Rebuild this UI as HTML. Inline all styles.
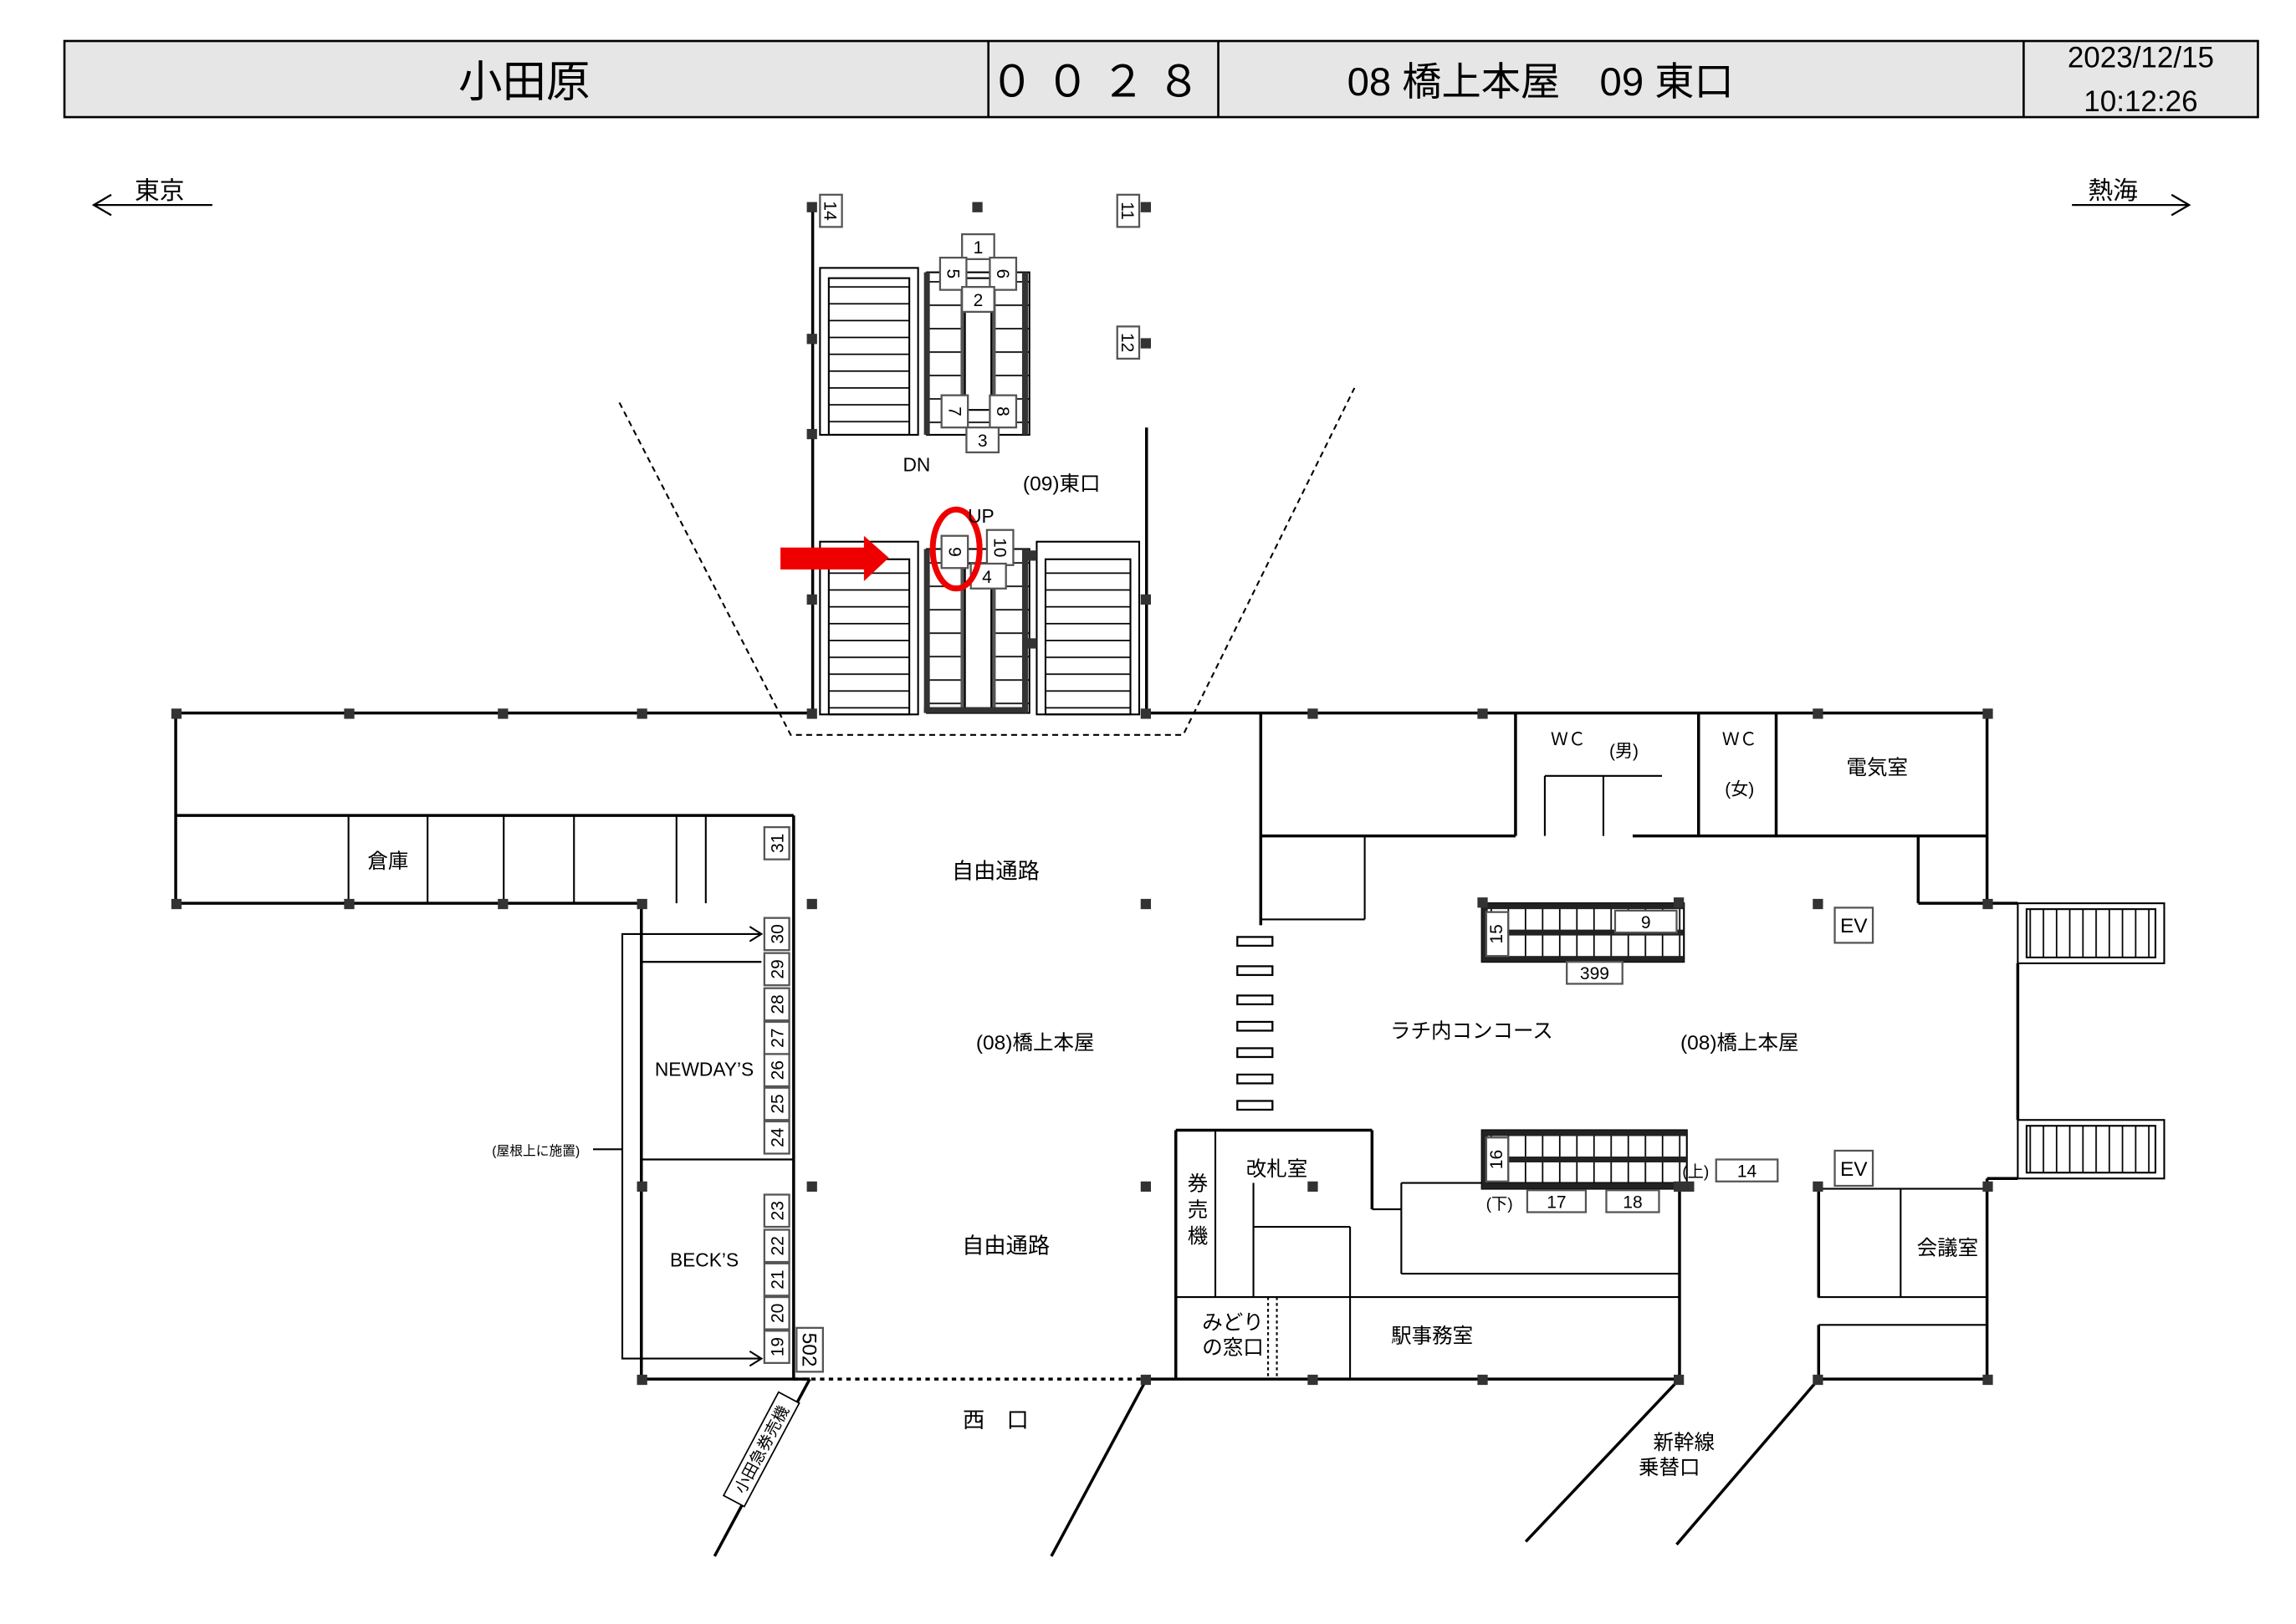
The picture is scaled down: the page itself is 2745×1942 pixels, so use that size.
<!DOCTYPE html>
<html><head><meta charset="utf-8"><style>
html,body{margin:0;padding:0;background:#fff}
svg{display:block}
text{font-family:"Liberation Sans","Noto Sans CJK JP",sans-serif;fill:#000}
</style></head><body>
<svg width="2745" height="1942" viewBox="0 0 1568 1109.3" preserveAspectRatio="none" xmlns="http://www.w3.org/2000/svg">
<defs>
<pattern id="tr" patternUnits="userSpaceOnUse" width="10" height="11.5"><line x1="0" y1="0.5" x2="10" y2="0.5" stroke="#000" stroke-width="1"/></pattern>
<pattern id="tr2" patternUnits="userSpaceOnUse" width="10" height="16"><line x1="0" y1="0.5" x2="10" y2="0.5" stroke="#000" stroke-width="1"/></pattern>
<pattern id="vt" patternUnits="userSpaceOnUse" width="11.7" height="10"><line x1="0.5" y1="0" x2="0.5" y2="10" stroke="#000" stroke-width="1"/></pattern>
<pattern id="vt2" patternUnits="userSpaceOnUse" width="9" height="10"><line x1="0.5" y1="0" x2="0.5" y2="10" stroke="#000" stroke-width="1"/></pattern>
</defs>
<rect width="1568" height="1109.3" fill="#fff"/>
<!-- header -->
<rect x="44" y="28" width="1498" height="52" fill="#e6e6e6" stroke="#000" stroke-width="1.5"/>
<line x1="675" y1="28" x2="675" y2="80" stroke="#000" stroke-width="1.5"/>
<line x1="832" y1="28" x2="832" y2="80" stroke="#000" stroke-width="1.5"/>
<line x1="1382" y1="28" x2="1382" y2="80" stroke="#000" stroke-width="1.5"/>
<text x="358" y="66" font-size="30" text-anchor="middle">小田原</text>
<text x="752" y="66" font-size="30" text-anchor="middle" letter-spacing="8">００２８</text>
<text x="1052" y="65" font-size="27" text-anchor="middle">08 橋上本屋　09 東口</text>
<text x="1462" y="46" font-size="20" text-anchor="middle">2023/12/15</text>
<text x="1462" y="76" font-size="20" text-anchor="middle">10:12:26</text>
<!-- direction -->
<g stroke="#000" stroke-width="1.3" fill="none">
<line x1="64" y1="140" x2="145" y2="140"/><polyline points="76,133 64,140 76,147"/>
<line x1="1415" y1="140" x2="1495" y2="140"/><polyline points="1483,133 1495,140 1483,147"/>
</g>
<text x="92" y="136" font-size="17">東京</text>
<text x="1426" y="136" font-size="17">熱海</text>

<g stroke="#000" stroke-width="2" fill="none">
<line x1="120" y1="487" x2="555" y2="487"/>
<line x1="783" y1="487" x2="1357" y2="487"/>
<line x1="120" y1="487" x2="120" y2="617"/>
<line x1="120" y1="557" x2="542" y2="557"/>
<line x1="120" y1="617" x2="438" y2="617"/>
<line x1="542" y1="557" x2="542" y2="942"/>
<line x1="438" y1="617" x2="438" y2="942"/>
<line x1="438" y1="942" x2="553" y2="942"/>
<line x1="438" y1="657" x2="520" y2="657" stroke-width="1.3"/>
<line x1="438" y1="792" x2="542" y2="792" stroke-width="1.3"/>
<line x1="555" y1="140" x2="555" y2="487"/>
<line x1="783" y1="292" x2="783" y2="487"/>
<line x1="861" y1="487" x2="861" y2="632"/>
<line x1="861" y1="571" x2="1035" y2="571"/>
<line x1="1035" y1="487" x2="1035" y2="571"/>
<line x1="1160" y1="487" x2="1160" y2="571"/>
<line x1="1213" y1="487" x2="1213" y2="571"/>
<line x1="1115" y1="571" x2="1357" y2="571"/>
<line x1="1357" y1="487" x2="1357" y2="617"/>
<line x1="1310" y1="571" x2="1310" y2="617"/>
<line x1="1310" y1="617" x2="1357" y2="617"/>
<line x1="1357" y1="617" x2="1378" y2="617"/>
<line x1="1378" y1="658" x2="1378" y2="765"/>
<line x1="1357" y1="805" x2="1378" y2="805"/>
<line x1="1357" y1="805" x2="1357" y2="942"/>
<line x1="1242" y1="942" x2="1357" y2="942"/>
<line x1="783" y1="942" x2="1147" y2="942"/>
<line x1="1147" y1="808" x2="1147" y2="942"/>
<line x1="803" y1="772" x2="937" y2="772"/>
<line x1="937" y1="772" x2="937" y2="826"/>
<line x1="803" y1="772" x2="803" y2="942"/>
<line x1="1242" y1="812" x2="1242" y2="886"/>
<line x1="1242" y1="905" x2="1242" y2="942"/>
<line x1="553" y1="942" x2="488" y2="1063"/>
<line x1="783" y1="942" x2="718" y2="1063"/>
<line x1="1147" y1="942" x2="1042" y2="1053"/>
<line x1="1242" y1="942" x2="1145" y2="1055"/>
</g>
<g stroke="#000" stroke-width="1.2" fill="none">
<line x1="238" y1="557" x2="238" y2="617"/><line x1="292" y1="557" x2="292" y2="617"/>
<line x1="344" y1="557" x2="344" y2="617"/><line x1="392" y1="557" x2="392" y2="617"/>
<line x1="462" y1="557" x2="462" y2="617"/><line x1="482" y1="557" x2="482" y2="617"/>
<line x1="1055" y1="530" x2="1095" y2="530"/><line x1="1055" y1="530" x2="1055" y2="571"/>
<line x1="1095" y1="530" x2="1095" y2="571"/><line x1="1095" y1="530" x2="1135" y2="530"/>
<line x1="932" y1="571" x2="932" y2="628"/><line x1="861" y1="628" x2="932" y2="628"/>
<rect x="1242" y="812" width="115" height="74"/>
<line x1="1298" y1="812" x2="1298" y2="886"/>
<line x1="1242" y1="905" x2="1357" y2="905"/>
<line x1="937" y1="826" x2="957" y2="826"/><line x1="957" y1="808" x2="957" y2="870"/>
<line x1="957" y1="808" x2="1147" y2="808"/>
<line x1="957" y1="870" x2="1147" y2="870"/>
<line x1="803" y1="886" x2="1147" y2="886"/>
<line x1="830" y1="772" x2="830" y2="886"/>
<line x1="856" y1="808" x2="856" y2="886"/>
<line x1="856" y1="838" x2="922" y2="838"/>
<line x1="922" y1="838" x2="922" y2="942"/>
<line x1="866" y1="886" x2="866" y2="942" stroke-dasharray="2,2"/>
<line x1="872" y1="886" x2="872" y2="942" stroke-dasharray="2,2"/>
<rect x="1378" y="617" width="100" height="41"/>
<rect x="1384" y="621" width="88" height="33" fill="url(#vt2)"/>
<rect x="1378" y="765" width="100" height="40"/>
<rect x="1384" y="769" width="88" height="32" fill="url(#vt2)"/>
<polyline points="423,275 540,502 808,502 925,265" stroke-dasharray="4,3"/>
<polyline points="425,785 425,638 520,638"/><polyline points="512,633 520,638 512,643"/>
<polyline points="425,785 425,928 520,928"/><polyline points="512,923 520,928 512,933"/>
<line x1="405" y1="785" x2="425" y2="785"/>
</g>
<line x1="542" y1="942" x2="783" y2="942" stroke="#000" stroke-width="2" stroke-dasharray="3,3"/>
<g fill="#fff" stroke="#000" stroke-width="1.3">
<rect x="845" y="640" width="24" height="6"/><rect x="845" y="660" width="24" height="6"/>
<rect x="845" y="680" width="24" height="6"/><rect x="845" y="698" width="24" height="6"/>
<rect x="845" y="716" width="24" height="6"/><rect x="845" y="734" width="24" height="6"/>
<rect x="845" y="752" width="24" height="6"/>
</g>
<g stroke="#000" stroke-width="1.2">
<rect x="560" y="183" width="67" height="114" fill="none"/>
<rect x="566" y="190" width="55" height="107" fill="url(#tr)"/>
<rect x="560" y="370" width="67" height="118" fill="none"/>
<rect x="566" y="382" width="55" height="106" fill="url(#tr)"/>
<rect x="708" y="370" width="70" height="118" fill="none"/>
<rect x="714" y="382" width="58" height="106" fill="url(#tr)"/>
<rect x="633" y="186" width="70" height="111" fill="url(#tr2)"/>
<rect x="631" y="186" width="4" height="111" fill="#333" stroke="none"/>
<rect x="698" y="186" width="4" height="111" fill="#333" stroke="none"/>
<rect x="656" y="190" width="3" height="90" fill="#555" stroke="none"/>
<rect x="677" y="190" width="3" height="90" fill="#555" stroke="none"/>
<rect x="659" y="190" width="18" height="90" fill="#fff"/>
<rect x="633" y="375" width="70" height="112" fill="url(#tr2)"/>
<rect x="631" y="375" width="4" height="112" fill="#333" stroke="none"/>
<rect x="698" y="375" width="4" height="112" fill="#333" stroke="none"/>
<rect x="656" y="385" width="3" height="100" fill="#555" stroke="none"/>
<rect x="677" y="385" width="3" height="100" fill="#555" stroke="none"/>
<rect x="659" y="385" width="18" height="100" fill="#fff"/>
<rect x="631" y="483" width="71" height="4" fill="#333" stroke="none"/>
<rect x="1012" y="617" width="138" height="40" fill="url(#vt)"/>
<rect x="1012" y="617" width="138" height="4" fill="#222" stroke="none"/>
<rect x="1030" y="635" width="120" height="4" fill="#222" stroke="none"/>
<rect x="1012" y="653" width="138" height="4" fill="#222" stroke="none"/>
<rect x="1012" y="617" width="4" height="40" fill="#222" stroke="none"/>
<rect x="1012" y="772" width="140" height="40" fill="url(#vt)"/>
<rect x="1012" y="772" width="140" height="4" fill="#222" stroke="none"/>
<rect x="1030" y="790" width="122" height="4" fill="#222" stroke="none"/>
<rect x="1012" y="808" width="140" height="4" fill="#222" stroke="none"/>
<rect x="1012" y="772" width="4" height="40" fill="#222" stroke="none"/>
</g>
<g fill="#333">
<rect x="117" y="484" width="7" height="7"/><rect x="235" y="484" width="7" height="7"/><rect x="340" y="484" width="7" height="7"/><rect x="435" y="484" width="7" height="7"/>
<rect x="551" y="484" width="7" height="7"/><rect x="779" y="484" width="7" height="7"/><rect x="893" y="484" width="7" height="7"/><rect x="1009" y="484" width="7" height="7"/><rect x="1238" y="484" width="7" height="7"/><rect x="1354" y="484" width="7" height="7"/>
<rect x="117" y="614" width="7" height="7"/><rect x="235" y="614" width="7" height="7"/><rect x="340" y="614" width="7" height="7"/><rect x="435" y="614" width="7" height="7"/>
<rect x="551" y="614" width="7" height="7"/><rect x="779" y="614" width="7" height="7"/><rect x="1238" y="614" width="7" height="7"/><rect x="1354" y="614" width="7" height="7"/>
<rect x="435" y="807" width="7" height="7"/><rect x="551" y="807" width="7" height="7"/><rect x="779" y="807" width="7" height="7"/><rect x="893" y="807" width="7" height="7"/>
<rect x="435" y="939" width="7" height="7"/><rect x="779" y="939" width="7" height="7"/><rect x="893" y="939" width="7" height="7"/><rect x="1009" y="939" width="7" height="7"/><rect x="1143" y="939" width="7" height="7"/><rect x="1238" y="939" width="7" height="7"/><rect x="1354" y="939" width="7" height="7"/>
<rect x="1238" y="807" width="7" height="7"/><rect x="1354" y="807" width="7" height="7"/>
<rect x="551" y="138" width="7" height="7"/><rect x="664" y="138" width="7" height="7"/><rect x="779" y="138" width="7" height="7"/>
<rect x="551" y="228" width="7" height="7"/><rect x="779" y="231" width="7" height="7"/><rect x="551" y="293" width="7" height="7"/>
<rect x="551" y="406" width="7" height="7"/><rect x="779" y="406" width="7" height="7"/><rect x="701" y="376" width="7" height="7"/><rect x="701" y="436" width="7" height="7"/>
<rect x="1009" y="613" width="7" height="7"/><rect x="1143" y="613" width="7" height="7"/><rect x="1143" y="807" width="14" height="7"/>
</g>
<g fill="#fff" stroke="#555" stroke-width="1.3">
<rect x="560" y="133" width="15" height="22"/><rect x="763" y="133" width="15" height="22"/><rect x="763" y="223" width="15" height="22"/>
<rect x="657" y="160" width="22" height="17"/><rect x="642" y="176" width="18" height="22"/><rect x="676" y="176" width="18" height="22"/>
<rect x="657" y="196" width="22" height="17"/>
<rect x="643" y="270" width="18" height="22"/><rect x="676" y="270" width="18" height="22"/><rect x="660" y="292" width="22" height="17"/>
<rect x="643" y="366" width="18" height="22"/><rect x="674" y="362" width="18" height="24"/><rect x="663" y="385" width="24" height="17"/>
<rect x="522" y="565" width="17" height="22"/>
<rect x="522" y="627" width="17" height="22"/><rect x="522" y="651" width="17" height="22"/><rect x="522" y="675" width="17" height="22"/><rect x="522" y="698" width="17" height="22"/><rect x="522" y="720" width="17" height="22"/><rect x="522" y="743" width="17" height="22"/><rect x="522" y="766" width="17" height="22"/>
<rect x="522" y="816" width="17" height="22"/><rect x="522" y="840" width="17" height="22"/><rect x="522" y="863" width="17" height="22"/><rect x="522" y="886" width="17" height="22"/><rect x="522" y="909" width="17" height="22"/>
<rect x="544" y="907" width="18" height="30"/>
<rect x="1015" y="623" width="15" height="30"/><rect x="1103" y="622" width="42" height="15"/><rect x="1070" y="657" width="38" height="15"/>
<rect x="1015" y="777" width="15" height="30"/><rect x="1172" y="792" width="42" height="15"/><rect x="1043" y="813" width="40" height="15"/><rect x="1097" y="813" width="36" height="15"/>
<rect x="1253" y="620" width="26" height="24"/><rect x="1253" y="786" width="26" height="24"/>
</g>
<g font-size="12" text-anchor="middle">
<text x="668" y="173">1</text><text x="668" y="209">2</text><text x="671" y="305">3</text><text x="674" y="398">4</text>
<text transform="translate(651,187) rotate(90)" dy="4">5</text><text transform="translate(685,187) rotate(90)" dy="4">6</text>
<text transform="translate(652,281) rotate(90)" dy="4">7</text><text transform="translate(685,281) rotate(90)" dy="4">8</text>
<text transform="translate(652,377) rotate(90)" dy="4">9</text><text transform="translate(683,374) rotate(90)" dy="4">10</text>
<text transform="translate(567,144) rotate(90)" dy="4">14</text><text transform="translate(770,144) rotate(90)" dy="4">11</text><text transform="translate(770,234) rotate(90)" dy="4">12</text>
<text transform="translate(531,576) rotate(-90)" dy="4">31</text><text transform="translate(531,638) rotate(-90)" dy="4">30</text><text transform="translate(531,662) rotate(-90)" dy="4">29</text><text transform="translate(531,686) rotate(-90)" dy="4">28</text><text transform="translate(531,709) rotate(-90)" dy="4">27</text><text transform="translate(531,731) rotate(-90)" dy="4">26</text><text transform="translate(531,754) rotate(-90)" dy="4">25</text><text transform="translate(531,777) rotate(-90)" dy="4">24</text>
<text transform="translate(531,827) rotate(-90)" dy="4">23</text><text transform="translate(531,851) rotate(-90)" dy="4">22</text><text transform="translate(531,874) rotate(-90)" dy="4">21</text><text transform="translate(531,897) rotate(-90)" dy="4">20</text><text transform="translate(531,920) rotate(-90)" dy="4">19</text>
<text transform="translate(553,922) rotate(90)" dy="5" font-size="14">502</text>
<text transform="translate(1022,638) rotate(-90)" dy="4">15</text><text transform="translate(1022,792) rotate(-90)" dy="4">16</text>
<text x="1124" y="634">9</text><text x="1089" y="669">399</text><text x="1193" y="804">14</text><text x="1063" y="825">17</text><text x="1115" y="825">18</text>
<text x="1266" y="637" font-size="14">EV</text><text x="1266" y="803" font-size="14">EV</text>
</g>
<rect x="533" y="374" width="60" height="15" fill="#e00"/>
<polygon points="590,366 607,381 590,397" fill="#e00"/>
<ellipse cx="653" cy="375" rx="16" ry="27" fill="none" stroke="#e00" stroke-width="4"/>
<g font-size="14" text-anchor="middle">
<text x="626" y="322" font-size="13">DN</text><text x="670" y="357" font-size="13">UP</text>
<text x="725" y="335">(09)東口</text>
<text x="680" y="600" font-size="15">自由通路</text>
<text x="707" y="717">(08)橋上本屋</text>
<text x="1005" y="709">ラチ内コンコース</text>
<text x="1188" y="717">(08)橋上本屋</text>
<text x="687" y="856" font-size="15">自由通路</text>
<text x="265" y="593">倉庫</text>
<text x="481" y="735" font-size="13">NEWDAY’S</text>
<text x="481" y="865" font-size="13">BECK’S</text>
<text x="366" y="789" font-size="9">(屋根上に施置)</text>
<text x="1071" y="509" font-size="12">ＷＣ</text><text x="1109" y="517" font-size="12">(男)</text>
<text x="1188" y="509" font-size="12">ＷＣ</text><text x="1188" y="543" font-size="12">(女)</text>
<text x="1282" y="529">電気室</text>
<text x="872" y="803">改札室</text>
<text x="818" y="813">券</text><text x="818" y="831">売</text><text x="818" y="849">機</text>
<text x="842" y="908">みどり</text><text x="842" y="925">の窓口</text>
<text x="978" y="917">駅事務室</text>
<text x="1330" y="857">会議室</text>
<text x="1024" y="826" font-size="11">(下)</text><text x="1158" y="804" font-size="11">(上)</text>
<text x="680" y="975" font-size="15">西　口</text>
<text x="1150" y="990">新幹線</text><text x="1140" y="1007">乗替口</text>
</g>
<g transform="translate(520,990) rotate(-62)">
<rect x="-40" y="-8" width="80" height="16" fill="#fff" stroke="#000" stroke-width="1"/>
<text x="0" y="4" font-size="11" text-anchor="middle">小田急券売機</text>
</g>
</svg>
</body></html>
